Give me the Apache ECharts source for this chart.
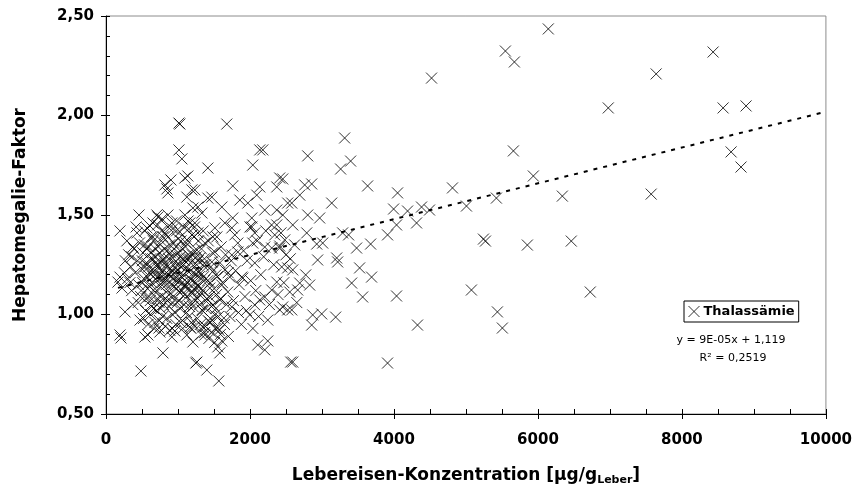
<!DOCTYPE html>
<html>
<head>
<meta charset="utf-8">
<script src="https://cdn.jsdelivr.net/npm/echarts@6/dist/echarts.min.js"></script>
<style>
html,body{margin:0;padding:0;background:#fff;}
#chart{width:855px;height:488px;}
</style>
</head>
<body>
<div id="chart"></div>
<script>
// Lebereisen-Konzentration [µg/g Leber] vs Hepatomegalie-Faktor (Thalassämie)
const seriesName = 'Thalassämie';
const xTitle = 'Lebereisen-Konzentration [µg/g';
const xTitleSub = 'Leber';
const yTitle = 'Hepatomegalie-Faktor';
const equationText = 'y = 9E-05x + 1,119';
const r2Text = 'R² = 0,2519';
const trendSlope = 0.00009;
const trendIntercept = 1.119;
const trendX = [166, 10000];

// sparse points, right part of the plot
const pointsSparse = [
  [6144,2.435],[5548,2.324],[5673,2.269],[4522,2.188],[8433,2.319],[7642,2.209],[6977,2.038],
  [8572,2.038],[8891,2.048],[5659,1.822],[8683,1.817],[8821,1.741],[5936,1.696],[4813,1.636],
  [7573,1.605],[6339,1.595],[5423,1.585],[5007,1.545],[6463,1.369],[5853,1.349],[5271,1.369],
  [5243,1.379],[6727,1.113],[5076,1.123],[5437,1.013],[5506,0.932],[4327,0.947],[4036,1.093],
  [3911,0.756],[2594,0.761],[4494,1.525],[4383,1.540],[4189,1.520],[3995,1.530],[4050,1.611],
  [4314,1.460],[4036,1.450],[3911,1.400],[3676,1.354],[3481,1.334],[3634,1.646],[3315,1.887],
  [3259,1.731],[3398,1.771],[3135,1.560],[2802,1.797],[2760,1.651],[2857,1.656],[2691,1.600],
  [2580,1.560],[2802,1.500],[2968,1.485],[2594,1.450],[2788,1.410],[3287,1.410],[3370,1.400],
  [2927,1.354],[3010,1.359],[2940,1.274],[3204,1.284],[3218,1.264],[3523,1.234],[3689,1.188],
  [3412,1.158],[3565,1.088],[2871,0.998],[2996,1.003],[3190,0.987],[2857,0.947],[2580,1.023],
  [2594,1.224],[2691,1.158],[2774,1.199],[2829,1.148],[2663,1.123]
];

// middle part of the plot
const pointsMiddle = [
  [1678,1.957],[2136,1.827],[2178,1.827],[1415,1.736],[2039,1.751],[1761,1.646],[2136,1.641],
  [2413,1.686],[2455,1.681],[2372,1.641],[1415,1.585],[1470,1.590],[1609,1.540],[1859,1.575],
  [2094,1.600],[1970,1.560],[2205,1.525],[2372,1.525],[2524,1.560],[1276,1.540],[1234,1.626],
  [1332,1.510],[1761,1.485],[2025,1.485],[2455,1.500],[2372,1.450],[2025,1.440],[1748,1.435],
  [1651,1.460],[1512,1.435],[1234,1.460],[1276,1.410],[1484,1.390],[2067,1.410],[2344,1.400],
  [2483,1.375],[1373,1.359],[1831,1.359],[2039,1.359],[2205,1.339],[2413,1.344],
  [1567,0.666],[1401,0.721],[1262,0.761],[2108,0.847],[2205,0.822],[2247,0.867],[2566,0.761],
  [1581,0.807],[1553,0.837],[1609,0.867],[1997,0.998],[2247,0.972],[2067,1.048],[2136,1.073],
  [2205,1.088],[2302,1.123],[2372,1.163],[2413,1.023],[2455,1.038],[2524,1.023],[2552,1.113],
  [1748,1.038],[1692,1.113],[1900,1.183],[1886,1.188],[1720,1.188],[2441,1.239],[2524,1.234],
  [2067,1.259],[1512,1.314],[1748,1.299],[1831,1.314],[2302,1.334],[2413,1.334],
  [1262,1.324],[1304,1.284],[1345,1.249],[1276,1.214],[1373,1.173],[1442,1.133],[1304,1.098],
  [1415,1.073],[1484,1.048],[1332,1.023],[1512,0.998],[1442,0.962],[1553,0.932],[1373,0.897],
  [1581,1.073],[1609,1.148],[1651,1.224],[1470,1.264],[1276,1.148],[1526,1.199],[1637,0.982],
  [1345,0.937]
];

// left part of the plot
const pointsLeft = [
  [1013,1.962],[1026,1.957],[1013,1.827],[1054,1.782],[818,1.651],[902,1.676],[860,1.611],
  [846,1.631],[1096,1.686],[1137,1.696],[1193,1.626],[1123,1.590],[194,1.420],[458,1.500],
  [707,1.500],[721,1.490],[652,1.460],[610,1.445],[569,1.435],[915,1.460],[860,1.440],
  [1096,1.500],[1207,1.535],[1165,1.460],[430,1.410],[374,1.339],[652,1.390],[791,1.390],
  [1026,1.415],[1123,1.375],
  [194,0.897],[208,0.882],[485,0.716],[791,0.807],[1248,0.756],[735,0.932],[749,0.912],
  [583,0.897],[541,0.887],[915,0.887],[957,0.917],[264,1.013],[472,0.972],[194,1.188],
  [166,1.163],[222,1.133],[1123,0.897],[1165,0.937],[1207,0.862]
];

// dense cluster
const pointsDense = [
  [290,1.37],[315,1.30],[342,1.24],[268,1.27],[301,1.18],[356,1.12],[388,1.33],[405,1.21],
  [372,1.05],[418,1.44],[437,1.27],[452,1.15],[466,1.36],[481,1.09],[497,1.23],[512,1.31],
  [526,1.18],[538,1.42],[549,1.02],[563,1.26],[577,1.13],[588,1.34],[602,1.21],[615,1.07],
  [628,1.39],[636,1.16],[649,1.28],[661,1.03],[672,1.22],[684,1.33],[693,1.11],[705,1.25],
  [716,1.45],[723,1.19],[738,1.06],[744,1.31],[757,1.14],[768,1.37],[776,1.22],[789,0.99],
  [795,1.28],[808,1.17],[817,1.41],[826,1.08],[834,1.25],[846,1.32],[858,1.12],[865,1.20],
  [877,1.04],[884,1.35],[893,1.23],[905,1.15],[912,1.29],[926,1.43],[933,1.09],[941,1.18],
  [954,1.26],[961,1.01],[973,1.34],[982,1.13],[994,1.22],[1003,1.38],[1011,1.07],[1019,1.17],
  [1028,1.29],[1037,0.96],[1046,1.24],[1055,1.12],[1063,1.33],[1072,1.20],[1084,1.05],[1093,1.27],
  [1101,1.15],[1112,1.36],[1124,1.09],[1133,1.22],[1145,1.30],[1152,0.99],[1164,1.18],[1173,1.26],
  [1185,1.11],[1196,1.40],[1207,1.04],[1216,1.21],[1228,1.32],[1237,0.94],[1249,1.16],[1261,1.25],
  [1273,1.08],[1284,1.37],[1296,1.19],
  [255,1.21],[333,1.16],[362,1.29],[447,1.06],[508,1.16],[543,1.24],[571,1.33],[597,1.09],
  [621,1.28],[655,1.19],[689,1.26],[712,1.08],[733,1.23],[751,1.20],[782,1.16],[801,1.27],
  [821,1.19],[852,1.07],[871,1.28],[899,1.19],[918,1.06],[947,1.21],[966,1.30],[988,1.17],
  [1008,1.25],[1024,1.11],[1051,1.19],[1068,1.28],[1089,1.14],[1107,1.23],[1129,1.16],[1158,1.28],
  [1179,1.06],[1202,1.17],[1224,1.13],[1255,1.29],[1279,1.14],[1302,1.05],[1318,1.21],[1341,1.12],
  [1367,1.28],[1389,1.03],[1412,1.17],[1436,1.09],[1458,1.24],[1479,0.97],[1503,1.13],[1528,1.03],
  [1546,1.19],[1572,0.92],[1594,1.08],[1618,1.16],[1645,0.95],[1671,1.05],[1697,1.21],[1722,0.99],
  [620,1.00],[680,0.96],[760,1.03],[845,0.98],[920,0.93],[1060,0.97],[1180,0.93],[1320,0.90],
  [1380,0.94],[1430,0.88],[1470,0.91],[1510,0.86],[1590,0.90],[1080,1.44],[1140,1.47],[980,1.47],
  [860,1.50],[780,1.48],[1230,1.44],[1350,1.42],[1420,1.37],[1480,1.31],[1540,1.39],[1600,1.34],
  [1660,1.30],[1740,1.27],[1800,1.22],[1850,1.15],[1930,1.09],[1960,1.27],[2010,1.17],[2080,1.12],
  [2150,1.20],[2190,1.29],[2270,1.05],[2330,1.25],[2390,1.10],[2470,1.16],[2560,1.28],[2620,1.35],
  [2650,1.06],[1770,1.07],[1840,1.01],[1880,0.95],[1950,1.02],[2040,0.93],[2120,0.99],[1700,0.89],
  [1790,1.40],[1910,1.32],[2000,1.44],[2100,1.37],[2220,1.42],[2300,1.45],[2430,1.41],[2500,1.30]
];

// core of the dense cluster
const pointsCore = [
  [488,1.12],[503,1.27],[521,0.98],[534,1.35],[556,1.08],[569,1.19],[583,0.95],[594,1.24],
  [607,1.14],[619,1.31],[633,1.04],[646,1.21],[658,1.37],[667,0.93],[679,1.13],[691,1.29],
  [702,1.02],[711,1.17],[727,1.34],[741,0.97],[753,1.26],[764,1.09],[772,1.42],[785,1.19],
  [798,1.05],[811,1.33],[823,0.94],[837,1.15],[849,1.24],[862,1.39],[874,1.10],[887,0.92],
  [896,1.31],[908,1.21],[921,1.00],[936,1.36],[949,1.14],[958,1.24],[969,0.95],[978,1.42],
  [991,1.06],[1006,1.31],[1017,1.20],[1031,1.03],[1042,1.37],[1058,1.16],[1066,0.93],[1078,1.25],
  [1095,1.10],[1104,1.34],[1118,1.01],[1127,1.28],[1139,1.13],[1148,1.43],[1161,1.04],[1170,1.22],
  [1188,0.96],[1198,1.30],[1211,1.11],[1222,1.39],[1240,1.07],[1252,1.20],[1268,0.98],[1281,1.27],
  [1293,1.12],[1310,0.95],[1326,1.33],[1339,1.02],[1355,1.19],[1371,0.91],[1384,1.25],[1401,1.08],
  [1418,0.97],[1447,1.16],[1466,1.04],[1492,1.22],[1517,0.93],[1535,1.10],[1561,0.99],[1583,1.26]
];

const allPoints = pointsSparse.concat(pointsMiddle, pointsLeft, pointsDense, pointsCore);
const trendData = trendX.map(x => [x, trendIntercept + trendSlope * x]);

const chart = echarts.init(document.getElementById('chart'), null, {renderer: 'canvas'});
const boldFont = 'DejaVu Sans';
const crossPath = 'path://M0,0L10,10M10,0L0,10';

chart.setOption({
  animation: false,
  backgroundColor: '#fff',
  grid: {left: 106, right: 28, top: 16, bottom: 74, show: true, borderColor: '#8c8c8c', borderWidth: 1, backgroundColor: 'transparent'},
  legend: {
    data: [{name: seriesName, icon: crossPath, itemStyle: {color: 'rgba(0,0,0,0)', borderColor: '#000', borderWidth: 1}}],
    left: 684, top: 301,
    orient: 'horizontal',
    borderColor: '#000', borderWidth: 1, borderRadius: 0,
    padding: [4, 4, 4, 4],
    itemWidth: 11, itemHeight: 11, itemGap: 4,
    textStyle: {fontFamily: boldFont, fontWeight: 'bold', fontSize: 13, color: '#000', padding: [0,0,0,-1]},
    selectedMode: false
  },
  xAxis: [
    {
      type: 'value', min: 0, max: 10000, interval: 2000,
      axisLine: {show: true, onZero: false, lineStyle: {color: '#000', width: 1}},
      axisTick: {show: true, inside: false, length: 5, lineStyle: {color: '#000'}},
      axisLabel: {color: '#000', fontFamily: boldFont, fontWeight: 'bold', fontSize: 15, margin: 19, formatter: v => String(v)},
      splitLine: {show: false}
    },
    {
      type: 'value', min: 0, max: 10000, interval: 500, position: 'bottom',
      axisLine: {show: false},
      axisTick: {show: true, inside: true, length: 5, lineStyle: {color: '#000'}},
      axisLabel: {show: false},
      splitLine: {show: false}
    }
  ],
  yAxis: [
    {
      type: 'value', min: 0.5, max: 2.5, interval: 0.5,
      axisLine: {show: true, onZero: false, lineStyle: {color: '#000', width: 1}},
      axisTick: {show: true, inside: false, length: 5, lineStyle: {color: '#000'}},
      axisLabel: {color: '#000', fontFamily: boldFont, fontWeight: 'bold', fontSize: 15, margin: 12,
        formatter: v => v.toFixed(2).replace('.', ',')},
      splitLine: {show: false}
    },
    {
      type: 'value', min: 0.5, max: 2.5, interval: 0.1, position: 'left',
      axisLine: {show: false},
      axisTick: {show: true, inside: true, length: 4, lineStyle: {color: '#000'}},
      axisLabel: {show: false},
      splitLine: {show: false}
    }
  ],
  series: [
    {
      name: seriesName,
      type: 'scatter',
      symbol: crossPath,
      symbolSize: 11,
      itemStyle: {color: 'rgba(0,0,0,0)', borderColor: '#000', borderWidth: 1},
      data: allPoints,
      z: 3
    },
    {
      name: 'Trend',
      type: 'line',
      data: trendData,
      symbol: 'none',
      lineStyle: {color: '#000', width: 2, type: [4, 6]},
      z: 2
    }
  ],
  graphic: [
    {
      type: 'text', x: 466, y: 474,
      style: {
        text: '{a|' + xTitle + '}{b|' + xTitleSub + '}{a|]}',
        align: 'center', verticalAlign: 'middle',
        rich: {
          a: {fontFamily: boldFont, fontWeight: 'bold', fontSize: 17, fill: '#000', verticalAlign: 'bottom', lineHeight: 20},
          b: {fontFamily: boldFont, fontWeight: 'bold', fontSize: 11, fill: '#000', verticalAlign: 'bottom', lineHeight: 14, padding: [0,0,-2,0]}
        }
      }
    },
    {
      type: 'text',
      x: 21, y: 215, rotation: Math.PI / 2,
      style: {text: yTitle, fontFamily: boldFont, fontWeight: 'bold', fontSize: 17, fill: '#000', align: 'center', verticalAlign: 'middle'}
    },
    {
      type: 'text', x: 731, y: 340,
      style: {text: equationText, fontFamily: 'DejaVu Sans', fontSize: 11, fill: '#000', align: 'center', verticalAlign: 'middle'}
    },
    {
      type: 'text', x: 733, y: 358,
      style: {text: r2Text, fontFamily: 'DejaVu Sans', fontSize: 11, fill: '#000', align: 'center', verticalAlign: 'middle'}
    }
  ]
});
</script>
</body>
</html>
